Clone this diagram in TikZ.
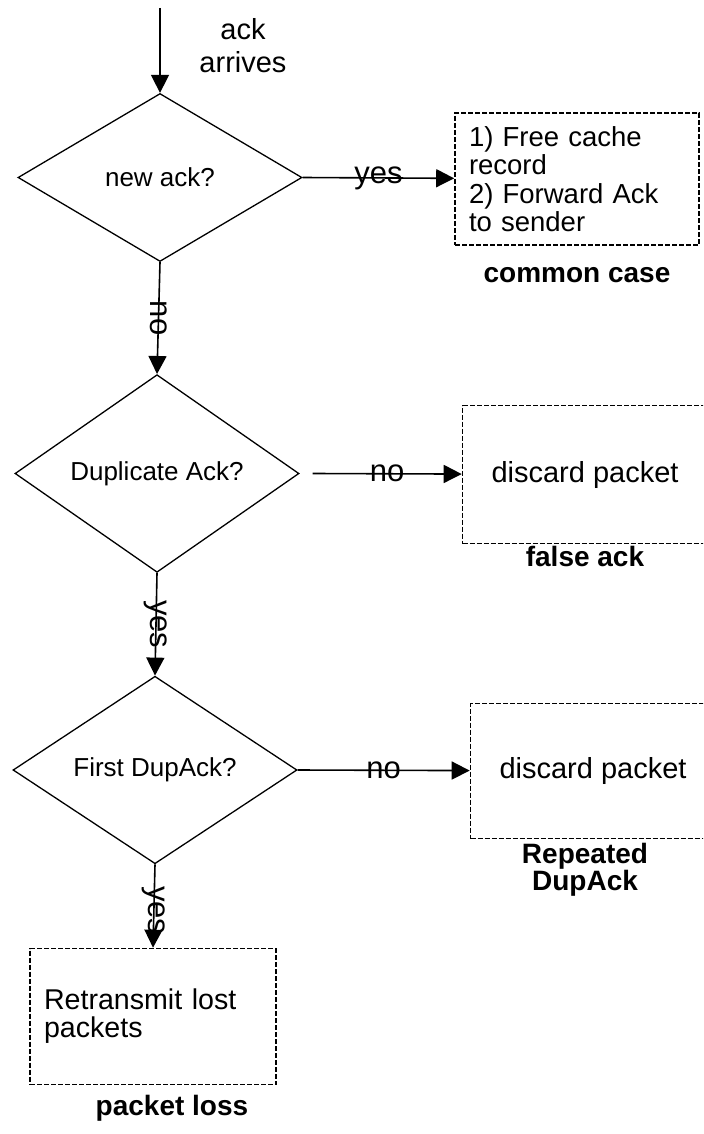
\documentclass[tikz,border=0pt]{standalone}
\usepackage{fontspec}
\setmainfont{Liberation Sans}
\usetikzlibrary{shapes.geometric,arrows.meta}

\tikzset{
  decision/.style={diamond,draw,line width=0.65pt,inner sep=0pt,
    minimum width=142pt,minimum height=84pt,font=\fontsize{13}{15}\selectfont},
  action/.style={rectangle,draw,line width=0.8pt,dash pattern=on 2.5pt off 1pt,
    inner sep=0pt,minimum height=68pt},
  flow/.style={line width=0.8pt,-{Triangle[length=9pt,width=9pt]}},
  elabel/.style={inner sep=0pt,font=\fontsize{15.5}{17}\selectfont},
  tag/.style={align=center,font=\bfseries\fontsize{14}{13.5}\selectfont}
}

\begin{document}
\begin{tikzpicture}[x=0.5pt,y=-0.5pt,line cap=butt,line join=miter]
  \useasboundingbox (0,0) rectangle (703,1134);
  \clip (0,0) rectangle (703,1134);
  % entry
  \coordinate (in) at (160,8);
  \node[align=center,font=\fontsize{14.5}{16.5}\selectfont] (arrives) at (243,46) {ack\\arrives};
  % decisions
  \node[decision] (d1) at (160,177.5) {new ack?};
  \node[decision] (d2) at (157,473.5) {Duplicate Ack?};
  \node[decision] (d3) at (155,770) {First DupAck?};
  % actions
  \node[action,minimum width=122pt,minimum height=66pt,text width=108pt,
    inner xsep=7pt,align=left,font=\fontsize{13.75}{14.25}\selectfont]
    (b1) at (577,179) {1) Free cache\\record\\2) Forward Ack\\to sender};
  \node[action,minimum width=122.5pt,minimum height=69pt,
    font=\fontsize{14.5}{16}\selectfont] (b2) at (585,474.5) {discard packet};
  \node[action,minimum width=122.5pt,minimum height=67.5pt,
    font=\fontsize{14.5}{16}\selectfont] (b3) at (593,771) {discard packet};
  \node[action,minimum width=123pt,text width=109pt,inner xsep=7pt,align=left,
    font=\fontsize{14.3}{14}\selectfont] (b4) at (153,1016.5)
    {Retransmit lost\\packets};
  % case names
  \node[tag] (t1) at (577,275) {common case};
  \node[tag] (t2) at (585,556) {false ack};
  \node[tag] (t3) at (585,870) {Repeated\\DupAck};
  \node[tag] (t4) at (172,1108) {packet loss};
  % connectors
  \draw[flow] (in) -- (d1.north);
  \draw[flow] (d1.east) -- node[elabel] {yes} (b1);
  \draw[flow] (d1.south) -- node[elabel,rotate=-90] {no} (d2.north);
  \draw[flow] ([xshift=6.5pt]d2.east) -- node[elabel] {no} (b2);
  \draw[flow] (d2.south) -- node[elabel,rotate=-90] {yes} (d3.north);
  \draw[flow] (d3.east) -- node[elabel] {no} (b3);
  \draw[flow] (d3.south) -- node[elabel,rotate=-90,pos=0.55] {yes} (b4.north);
\end{tikzpicture}
\end{document}
